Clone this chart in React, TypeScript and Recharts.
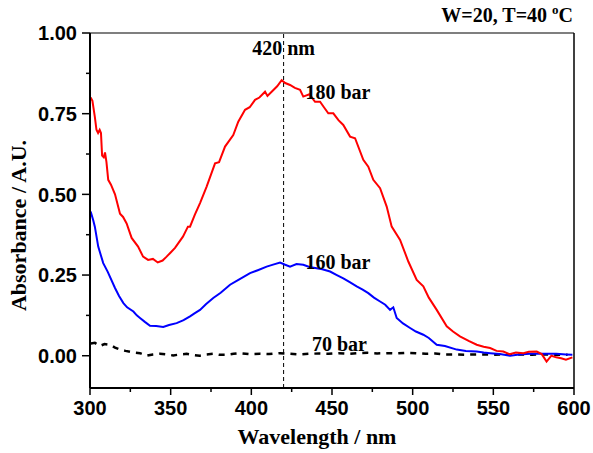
import { LineChart, Line, XAxis, YAxis, ReferenceLine, ReferenceDot } from "recharts";

// 180 bar (red)
const wl180 = [300.4, 301.5, 303, 304, 305, 306, 306.8, 307.5, 308.5, 309.3, 310.2, 311.3, 313, 315.5, 318.6, 320.5, 322.7, 325.8, 329.8, 332.9, 336, 339, 342, 345, 347.5, 350, 352.7, 357.6, 360.7, 362, 365, 368.2, 372.3, 377.5, 380, 383.7, 388.8, 391.9, 396.1, 399, 402.3, 405, 408.5, 410, 412.6, 416, 418.8, 421, 424, 427, 430.2, 432.2, 436, 439.5, 442.6, 445, 447.7, 450.8, 454, 457, 461.2, 464.3, 469.4, 472.5, 475.6, 479.8, 483.9, 487, 492.2, 497.3, 502.5, 506.6, 510, 514.9, 521.1, 525, 529.3, 535, 539.7, 544, 548, 552, 556.2, 560, 564, 568.6, 572, 576.9, 580, 583, 586, 589, 592, 595, 599];
const abs180 = [0.80, 0.79, 0.74, 0.70, 0.69, 0.70, 0.69, 0.62, 0.615, 0.63, 0.60, 0.545, 0.53, 0.50, 0.44, 0.43, 0.41, 0.365, 0.338, 0.307, 0.297, 0.30, 0.289, 0.295, 0.307, 0.32, 0.334, 0.369, 0.40, 0.40, 0.437, 0.473, 0.524, 0.596, 0.60, 0.648, 0.684, 0.725, 0.762, 0.77, 0.793, 0.80, 0.818, 0.805, 0.818, 0.835, 0.854, 0.845, 0.839, 0.83, 0.824, 0.803, 0.81, 0.787, 0.787, 0.77, 0.751, 0.751, 0.73, 0.715, 0.679, 0.674, 0.607, 0.586, 0.545, 0.519, 0.462, 0.40, 0.359, 0.292, 0.235, 0.215, 0.18, 0.142, 0.091, 0.075, 0.06, 0.045, 0.034, 0.028, 0.024, 0.015, 0.013, 0.005, 0.01, 0.008, 0.012, 0.013, 0.005, -0.018, 0.0, -0.005, -0.008, -0.012, -0.005];

// 160 bar (blue)
const wl160 = [300.4, 302, 303, 305.1, 308.2, 311, 315.5, 318, 320.7, 323, 326.9, 329, 331, 334, 337.2, 341, 345.4, 349, 353.7, 358, 362, 365, 368.2, 372, 376.4, 381, 386.8, 392, 399.2, 404, 409.5, 414, 417.8, 421, 424, 428, 432.2, 436, 440.5, 444, 448.8, 453, 457, 461, 465.3, 469, 472.5, 476, 479.8, 483, 486, 488, 490.1, 494, 498.4, 502, 506.6, 510, 514.9, 520, 527.3, 533, 539.7, 544, 548, 554, 560.4, 566, 572.8, 580, 589, 595, 599];
const abs160 = [0.447, 0.42, 0.40, 0.338, 0.287, 0.26, 0.21, 0.185, 0.163, 0.15, 0.137, 0.125, 0.117, 0.105, 0.093, 0.092, 0.089, 0.095, 0.101, 0.11, 0.122, 0.132, 0.142, 0.16, 0.179, 0.195, 0.22, 0.235, 0.256, 0.265, 0.276, 0.283, 0.289, 0.282, 0.276, 0.284, 0.282, 0.275, 0.271, 0.268, 0.261, 0.25, 0.24, 0.228, 0.215, 0.205, 0.194, 0.18, 0.168, 0.158, 0.142, 0.15, 0.117, 0.10, 0.086, 0.075, 0.065, 0.055, 0.034, 0.03, 0.019, 0.015, 0.013, 0.01, 0.008, 0.005, 0.0, 0.004, 0.006, 0.006, 0.006, 0.004, 0.003];

// 70 bar (black, dashed)
const wl70 = [300.5, 303, 306, 309, 312.4, 315.5, 318.6, 322, 326.9, 331, 335.1, 339, 343.4, 347, 351.6, 356, 359.9, 364, 368, 372, 376.4, 380, 384.7, 389, 393, 399, 405.4, 411, 417.8, 424, 430, 436, 442, 448, 454, 460, 466, 472, 478, 484, 490, 496, 502, 508, 514, 520, 526, 532, 538, 544, 550, 556, 562, 568, 574, 580, 588, 596];
const abs70 = [0.038, 0.04, 0.03, 0.036, 0.034, 0.025, 0.019, 0.015, 0.01, 0.008, 0.0, 0.004, 0.006, 0.004, 0.001, 0.004, 0.006, 0.002, 0.0, 0.004, 0.006, 0.003, 0.003, 0.006, 0.008, 0.005, 0.006, 0.005, 0.008, 0.006, 0.004, 0.006, 0.007, 0.006, 0.008, 0.006, 0.008, 0.009, 0.007, 0.008, 0.007, 0.009, 0.008, 0.006, 0.007, 0.004, 0.004, 0.003, 0.004, 0.004, 0.003, 0.004, 0.003, 0.004, 0.003, 0.004, 0.003, 0.003];

// major + minor ticks
const xTicks = [300, 325, 350, 375, 400, 425, 450, 475, 500, 525, 550, 575, 600];
const yTicks = [0, 0.125, 0.25, 0.375, 0.5, 0.625, 0.75, 0.875, 1];

const toPoints = (wl: number[], abs: number[]) => wl.map((w, i) => ({ wl: w, abs: abs[i] }));

const serif = "'Liberation Serif', 'Times New Roman', serif";
const sans = "'Liberation Sans', Arial, sans-serif";

const labelStyle = { fill: "#000", fontSize: 20, fontWeight: 700, fontFamily: serif };

function XTick(props: any) {
  const { x, y, payload } = props;
  const major = payload.value % 50 === 0;
  return (
    <g>
      <line x1={x} x2={x} y1={y} y2={y + (major ? 7 : 4)} stroke="#000" strokeWidth={1.5} />
      {major && (
        <text x={x} y={y + 13} dy="0.71em" textAnchor="middle" fontSize={20} fontWeight={700} fontFamily={sans} fill="#000">
          {payload.value}
        </text>
      )}
    </g>
  );
}

function YTick(props: any) {
  const { x, y, payload } = props;
  const major = Math.round(payload.value * 1000) % 250 === 0;
  return (
    <g>
      <line x1={x - (major ? 8 : 4)} x2={x} y1={y} y2={y} stroke="#000" strokeWidth={1.5} />
      {major && (
        <text x={x - 13} y={y} dy="0.36em" textAnchor="end" fontSize={20} fontWeight={700} fontFamily={sans} fill="#000">
          {payload.value.toFixed(2)}
        </text>
      )}
    </g>
  );
}

function XTitle(props: any) {
  const { viewBox } = props;
  const x = viewBox.x + viewBox.width / 2 - 15;
  const y = viewBox.y + viewBox.height - 9;
  return (
    <text x={x} y={y} textAnchor="middle" fontSize={22} fontWeight={700} fontFamily={serif} fill="#000">
      Wavelength / nm
    </text>
  );
}

function YTitle(props: any) {
  const { viewBox } = props;
  const x = viewBox.x + 26;
  const y = viewBox.y + viewBox.height / 2 + 15;
  return (
    <text x={x} y={y} transform={`rotate(-90, ${x}, ${y})`} textAnchor="middle" fontSize={22} fontWeight={700} fontFamily={serif} fill="#000">
      Absorbance / A.U.
    </text>
  );
}

export default function App() {
  return (
    <div style={{ position: "absolute", left: 0, top: 0, width: 593, height: 453, background: "#fff" }}>
      <div style={{ position: "absolute", right: 20, top: 2, fontFamily: serif, fontWeight: 700, fontSize: 20, color: "#000" }}>
        W=20, T=40 <sup style={{ fontSize: 13 }}>o</sup>C
      </div>
      <LineChart width={593} height={453} margin={{ top: 33, right: 19, left: 0, bottom: 0 }}>
        <XAxis
          type="number"
          dataKey="wl"
          domain={[300, 600]}
          ticks={xTicks}
          interval={0}
          allowDataOverflow
          tickSize={0}
          tickMargin={0}
          tick={<XTick />}
          axisLine={{ stroke: "#000", strokeWidth: 2 }}
          tickLine={false}
          height={65}
          label={<XTitle />}
        />
        <YAxis
          type="number"
          domain={[-0.1, 1]}
          ticks={yTicks}
          interval={0}
          allowDataOverflow
          tickSize={0}
          tickMargin={0}
          tick={<YTick />}
          axisLine={{ stroke: "#000", strokeWidth: 2 }}
          tickLine={false}
          width={90}
          label={<YTitle />}
        />
        {/* top and right frame */}
        <ReferenceLine y={1} stroke="#555" strokeWidth={1.5} />
        <ReferenceLine x={600} stroke="#000" strokeWidth={1.5} />
        <ReferenceLine x={420} stroke="#000" strokeWidth={1} strokeDasharray="4 3" />
        <Line
          data={toPoints(wl70, abs70)}
          dataKey="abs"
          type="linear"
          stroke="#000"
          strokeWidth={2.5}
          strokeDasharray="6 6"
          dot={false}
          isAnimationActive={false}
        />
        <Line
          data={toPoints(wl160, abs160)}
          dataKey="abs"
          type="linear"
          stroke="#0000ff"
          strokeWidth={2}
          dot={false}
          isAnimationActive={false}
        />
        <Line
          data={toPoints(wl180, abs180)}
          dataKey="abs"
          type="linear"
          stroke="#ff0000"
          strokeWidth={2}
          dot={false}
          isAnimationActive={false}
        />
        <ReferenceDot x={420} y={0.953} r={0} fill="none" stroke="none" label={{ value: "420 nm", position: "center", ...labelStyle }} />
        <ReferenceDot x={453.7} y={0.817} r={0} fill="none" stroke="none" label={{ value: "180 bar", position: "center", ...labelStyle }} />
        <ReferenceDot x={453.7} y={0.292} r={0} fill="none" stroke="none" label={{ value: "160 bar", position: "center", ...labelStyle }} />
        <ReferenceDot x={454.6} y={0.037} r={0} fill="none" stroke="none" label={{ value: "70 bar", position: "center", ...labelStyle }} />
      </LineChart>
    </div>
  );
}
